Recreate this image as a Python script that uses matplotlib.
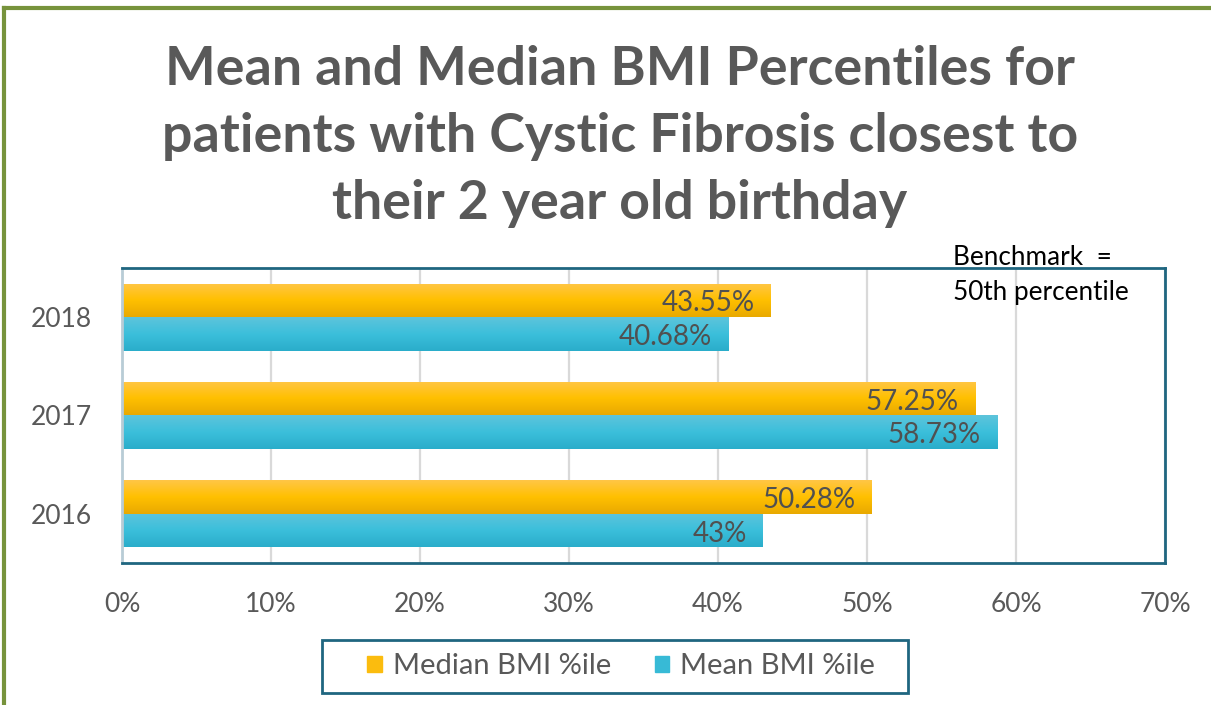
import matplotlib.pyplot as plt
from matplotlib.colors import LinearSegmentedColormap
from matplotlib.lines import Line2D
from matplotlib.patches import Patch, Rectangle
import numpy as np


years = ['2016', '2017', '2018']
median_bmi = [50.28, 57.25, 43.55]
mean_bmi = [43.0, 58.73, 40.68]
median_labels = ['50.28%', '57.25%', '43.55%']
mean_labels = ['43%', '58.73%', '40.68%']
x_ticks = [0, 10, 20, 30, 40, 50, 60, 70]

TITLE = ('Mean and Median BMI Percentiles for\n'
         'patients with Cystic Fibrosis closest to\n'
         'their 2 year old birthday')
ORANGE = '#FBBC0E'
BLUE = '#37BAD6'
TEAL = '#1F6680'
GREY = '#595959'

ORANGE_GRAD = LinearSegmentedColormap.from_list(
    'og', ['#FFC646', '#FFC000', '#E9A900'])
BLUE_GRAD = LinearSegmentedColormap.from_list(
    'bg', ['#5DC4DB', '#3BBFDB', '#2AADCA'])


def shade(ax, bars, cmap):
    grad = np.linspace(0, 1, 64).reshape(-1, 1)
    for b in bars:
        x0, y0 = b.get_x(), b.get_y()
        im = ax.imshow(grad, cmap=cmap, aspect='auto', origin='upper',
                       extent=(x0, x0 + b.get_width(), y0, y0 + b.get_height()),
                       zorder=2)
        im.set_clip_path(b)


def main():
    plt.rcParams.update({
        'font.family': ['Lato', 'DejaVu Sans'],
        'text.color': GREY,
        'xtick.color': GREY,
        'ytick.color': GREY,
    })
    fig = plt.figure(figsize=(12.11, 7.05), dpi=100)
    ax = fig.add_axes([0.1007, 0.2014, 0.8613, 0.4185])

    y = np.arange(len(years))
    h = 0.34
    med = ax.barh(y + h / 2, median_bmi, height=h, color=ORANGE, zorder=2)
    mea = ax.barh(y - h / 2, mean_bmi, height=h, color=BLUE, zorder=2)
    shade(ax, med, ORANGE_GRAD)
    shade(ax, mea, BLUE_GRAD)
    for bars, labels in ((med, median_labels), (mea, mean_labels)):
        for b, lab in zip(bars, labels):
            ax.annotate(lab, (b.get_width(), b.get_y() + b.get_height() / 2),
                        xytext=(-16, -3), textcoords='offset pixels',
                        ha='right', va='center', fontsize=20, color='#505050',
                        zorder=3)

    ax.set_xlim(0, 70)
    ax.set_ylim(-0.5, 2.5)
    ax.set_xticks(x_ticks)
    ax.set_xticklabels([f'{v}%' for v in x_ticks])
    ax.set_yticks(y)
    ax.set_yticklabels(years)
    ax.tick_params(axis='both', length=0, labelsize=19)
    ax.tick_params(axis='x', pad=21)
    ax.tick_params(axis='y', pad=21.5)
    ax.grid(axis='x', color='#D9D9D9', linewidth=1.6, zorder=0)
    ax.set_axisbelow(True)
    for side in ('top', 'bottom', 'right'):
        ax.spines[side].set_color(TEAL)
        ax.spines[side].set_linewidth(2)
    ax.spines['left'].set_color('#B8CCD6')
    ax.spines['left'].set_linewidth(2)

    fig.text(0.512, 0.806, TITLE, ha='center', va='center', fontsize=38.6,
             fontweight='bold', color=GREY, linespacing=1.45)
    fig.text(0.787, 0.61, 'Benchmark  =\n50th percentile', ha='left',
             va='center', fontsize=18.8, color='black', linespacing=1.5)

    handles = [Patch(color=ORANGE), Patch(color=BLUE)]
    fig.legend(handles, ['Median BMI %ile', 'Mean BMI %ile'],
               loc='center', bbox_to_anchor=(0.513, 0.055), ncol=2,
               fontsize=21, frameon=False,
               handlelength=0.5, handleheight=0.5, handletextpad=0.38,
               columnspacing=1.5, labelcolor=GREY)
    fig.add_artist(Rectangle((322 / 1211, 1 - 693 / 705), 586 / 1211,
                             53 / 705, transform=fig.transFigure,
                             facecolor='none', edgecolor=TEAL, linewidth=2))

    green = '#77933C'
    fig.add_artist(Line2D([0.0035, 0.0035], [0, 0.988], color=green,
                          linewidth=3, transform=fig.transFigure))
    fig.add_artist(Line2D([0.0035, 1], [0.988, 0.988], color=green,
                          linewidth=3, transform=fig.transFigure))

    fig.savefig('out.png', dpi=100)


if __name__ == '__main__':
    main()
